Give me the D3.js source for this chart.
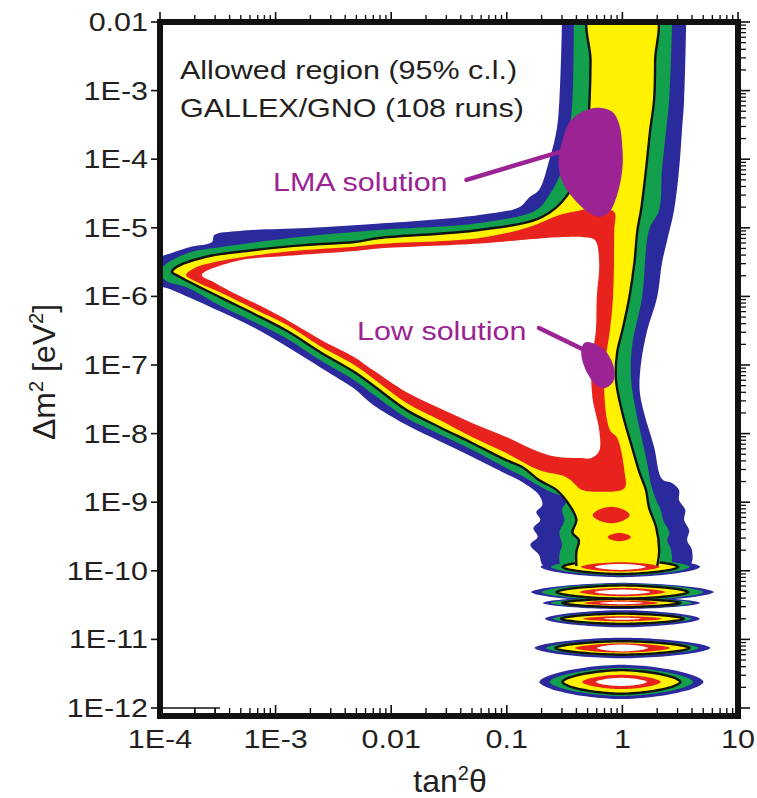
<!DOCTYPE html>
<html><head><meta charset="utf-8">
<script src="https://cdn.jsdelivr.net/npm/d3@7"></script>
<style>
html,body{margin:0;padding:0;background:#fff;}
svg text{font-family:"Liberation Sans",Arial,Helvetica,sans-serif;fill:#231f20;}
</style></head><body>
<svg id="chart" width="757" height="798"></svg>
<script>
// ---------------- data ----------------
const xTickValues = [1e-4, 1e-3, 1e-2, 1e-1, 1, 10];
const xTickLabels = ["1E-4", "1E-3", "0.01", "0.1", "1", "10"];
const yTickValues = [1e-2, 1e-3, 1e-4, 1e-5, 1e-6, 1e-7, 1e-8, 1e-9, 1e-10, 1e-11, 1e-12];
const yTickLabels = ["0.01", "1E-3", "1E-4", "1E-5", "1E-6", "1E-7", "1E-8", "1E-9", "1E-10", "1E-11", "1E-12"];

// outline points [tan^2 theta, delta m^2 (eV^2)] of each colour level
const blueRegion = [
 [0.21,1.17e-10],[0.19,1.7e-10],[0.16,2.4e-10],[0.185,3.1e-10],[0.17,4.2e-10],[0.195,5.5e-10],[0.18,7.2e-10],[0.203,9.1e-10],
 [0.19,1.27e-9],[0.136,1.97e-9],[0.099,2.58e-9],[0.050,4.6e-9],[0.026,7.8e-9],[0.0136,1.33e-8],[6.9e-3,2.65e-8],[4.8e-3,4.5e-8],
 [2.5e-3,9.0e-8],[1.27e-3,1.83e-7],[6.6e-4,3.46e-7],[3.4e-4,5.9e-7],[1.75e-4,9.8e-7],[1.04e-4,1.37e-6],[9e-5,1.3e-6],[9e-5,3.9e-6],
 [1.0e-4,3.85e-6],[1.82e-4,5.25e-6],[2.82e-4,6.2e-6],[2.95e-4,7.85e-6],[4.9e-4,9.0e-6],[1.86e-3,9.9e-6],[9.1e-3,1.17e-5],[0.058,1.54e-5],
 [0.128,2.0e-5],[0.157,2.8e-5],[0.19,3.56e-5],[0.233,9.7e-5],[0.27,2.67e-4],[0.285,7.3e-4],[0.30,1e-2],[0.30,1.3e-2],
 [3.56,1.3e-2],[3.56,1e-2],[3.42,7.3e-4],[3.28,2.67e-4],[3.09,7.0e-5],[2.8,1.82e-5],[2.44,6.6e-6],[2.2,3.07e-6],[2.0,9.8e-7],
 [1.64,3.2e-7],[1.45,1.07e-7],[1.41,4.3e-8],[1.54,2.0e-8],[1.88,6.4e-9],[2.2,2.18e-9],[2.69,1.9e-9],[3.09,1.5e-9],[3.09,1.08e-9],
 [3.5,7.7e-10],[3.42,5.5e-10],[3.78,3.9e-10],[3.63,2.8e-10],[4.0,2.0e-10],[3.78,1.17e-10]
];
const greenRegion = [
 [0.30,1.17e-10],[0.285,1.7e-10],[0.30,2.4e-10],[0.285,3.6e-10],[0.315,5.5e-10],[0.30,7.7e-10],[0.327,1.08e-9],[0.22,1.5e-9],
 [0.136,2.4e-9],[0.099,3.15e-9],[0.050,5.8e-9],[0.026,9.9e-9],[0.0136,1.69e-8],[6.9e-3,3.8e-8],[4.8e-3,6.0e-8],[2.5e-3,1.14e-7],
 [1.27e-3,2.4e-7],[6.6e-4,4.2e-7],[3.4e-4,7.2e-7],[1.75e-4,1.33e-6],[1.1e-4,1.73e-6],[1.02e-4,2.4e-6],[1.1e-4,2.87e-6],[1.75e-4,4.3e-6],
 [3.4e-4,5.25e-6],[9.3e-4,6.6e-6],[2.5e-3,7.9e-6],[7.9e-3,9.3e-6],[0.058,1.17e-5],[0.18,1.82e-5],[0.233,3.0e-5],[0.30,7.0e-5],
 [0.348,2.67e-4],[0.37,7.3e-4],[0.38,1e-2],[0.38,1.3e-2],[2.69,1.3e-2],[2.69,1e-2],[2.54,7.3e-4],[2.39,2.67e-4],[2.2,7.0e-5],
 [2.08,1.82e-5],[1.70,9.3e-6],[1.48,9.8e-7],[1.21,1.83e-7],[1.19,6.0e-8],[1.32,2.0e-8],[1.64,3.7e-9],[1.77,1.78e-9],[1.96,1.08e-9],
 [2.15,7.7e-10],[2.25,5.5e-10],[2.55,3.6e-10],[2.44,2.8e-10],[2.64,2.0e-10],[2.55,1.17e-10]
];
// 95% c.l. contour (black line) enclosing the yellow level
const contour95 = [
 [0.40,1.17e-10],[0.40,1.9e-10],[0.42,2.8e-10],[0.37,3.6e-10],[0.40,5.5e-10],[0.36,8.3e-10],[0.27,1.5e-9],[0.19,2.1e-9],
 [0.136,3.26e-9],[0.099,4.1e-9],[0.050,7.3e-9],[0.026,1.25e-8],[0.0136,2.2e-8],[6.9e-3,5.1e-8],[4.8e-3,7.9e-8],[2.5e-3,1.5e-7],
 [1.27e-3,3.1e-7],[6.6e-4,5.5e-7],[3.4e-4,9.5e-7],[1.49e-4,1.92e-6],[1.27e-4,2.27e-6],[1.35e-4,2.6e-6],[2.45e-4,3.75e-6],
 [6.6e-4,4.75e-6],[1.79e-3,5.6e-6],[4.8e-3,6.2e-6],[7.9e-3,7.1e-6],[0.058,9.3e-6],[0.20,1.43e-5],[0.334,3.0e-5],[0.47,1.36e-4],
 [0.50,2.67e-4],[0.52,7.3e-4],[0.53,2.8e-3],[0.52,1.3e-2],[1.92,1.3e-2],[1.92,2.8e-3],[1.88,7.3e-4],[1.74,2.67e-4],[1.6,7.0e-5],
 [1.45,1.82e-5],[1.35,9.3e-6],[1.27,3.07e-6],[1.15,9.8e-7],[1.0,3.2e-7],[0.90,1.5e-7],[0.88,6.0e-8],[1.0,2.0e-8],[1.21,6.4e-9],
 [1.41,2.67e-9],[1.6,1.5e-9],[1.70,8.3e-10],[1.96,4.3e-10],[2.08,2.0e-10],[2.0,1.17e-10]
];
const redRegion = [
 [0.285,1.54e-5],[0.157,1.03e-5],[0.058,7.1e-6],[7.9e-3,5.8e-6],[4.8e-3,5.3e-6],[1.27e-3,4.5e-6],[3.4e-4,3.3e-6],[2.0e-4,2.6e-6],
 [1.68e-4,2.05e-6],[2.0e-4,1.67e-6],[3.4e-4,1.12e-6],[6.6e-4,6.5e-7],[1.27e-3,3.8e-7],[2.5e-3,1.83e-7],[4.8e-3,1.0e-7],
 [0.0136,2.8e-8],[0.026,1.59e-8],[0.050,8.9e-9],[0.099,5.2e-9],[0.19,2.94e-9],[0.33,2.3e-9],[0.45,1.5e-9],[0.60,1.42e-9],
 [1.04,1.6e-9],[1.04,2.9e-9],[0.90,8.7e-9],[0.78,1.13e-8],[0.70,3.4e-8],[0.71,1.07e-7],[0.78,3.2e-7],[0.83,9.8e-7],
 [0.85,9.3e-6],[0.85,1.7e-5],[0.57,1.95e-5],[0.40,1.75e-5]
];
const holeRegion = [
 [2.3e-4,2.05e-6],[4.7e-4,3.3e-6],[1.27e-3,3.9e-6],[4.8e-3,4.6e-6],[7.9e-3,5.0e-6],[0.058,5.9e-6],[0.157,6.8e-6],[0.285,7.3e-6],
 [0.47,7.3e-6],[0.58,6.6e-6],[0.63,3.07e-6],[0.60,9.8e-7],[0.59,3.2e-7],[0.54,1.07e-7],[0.55,3.4e-8],[0.63,1.13e-8],[0.63,5.6e-9],
 [0.54,4.4e-9],[0.42,4.4e-9],[0.27,4.6e-9],[0.19,5.4e-9],[0.099,8.9e-9],[0.050,1.43e-8],[0.026,2.36e-8],[0.0136,4.0e-8],
 [6.9e-3,8.5e-8],[4.8e-3,1.3e-7],[2.5e-3,2.3e-7],[1.27e-3,4.5e-7],[6.6e-4,8.0e-7],[4.7e-4,1.05e-6],[3.0e-4,1.57e-6]
];

// vacuum-oscillation islands: centre and half sizes (decades) of bands blue, green, 95% c.l., red, white
const ovalTan2 = [0.96, 1.0, 0.98, 1.0, 1.0, 0.98];
const ovalDm2 = [1.14e-10, 4.9e-11, 3.4e-11, 2.0e-11, 7.5e-12, 2.4e-12];
const ovalHalfWidth = [
 [0.69, 0.60, 0.50, 0.34, 0.22],
 [0.79, 0.70, 0.57, 0.37, 0.24],
 [0.68, 0.61, 0.51, 0.32, 0.19],
 [0.67, 0.60, 0.53, 0.34, 0.16],
 [0.76, 0.66, 0.58, 0.41, 0.22],
 [0.71, 0.62, 0.51, 0.34, 0.22]
];
const ovalHalfHeight = [
 [0.15, 0.126, 0.104, 0.068, 0.044],
 [0.135, 0.12, 0.097, 0.06, 0.036],
 [0.09, 0.075, 0.06, 0.038, 0.018],
 [0.125, 0.09, 0.075, 0.038, 0.015],
 [0.15, 0.115, 0.098, 0.068, 0.05],
 [0.25, 0.205, 0.172, 0.105, 0.06]
];
// red patches inside the tail
const patchTan2 = [0.80, 0.94];
const patchDm2 = [6.5e-10, 3.1e-10];
const patchHalfWidth = [0.16, 0.10];
const patchHalfHeight = [0.12, 0.06];

// solutions
const lmaRegion = [[0.605,5.6e-4],[0.817,4.9e-4],[0.94,3.2e-4],[1.0,1.46e-4],[1.0,7.4e-5],[0.90,3.0e-5],[0.77,1.7e-5],
 [0.63,1.44e-5],[0.52,1.64e-5],[0.40,2.4e-5],[0.302,4.7e-5],[0.28,9.1e-5],[0.30,1.78e-4],[0.35,3.5e-4],[0.45,4.9e-4]];
const lowRegion = [[0.468,2.1e-7],[0.55,2.1e-7],[0.70,1.66e-7],[0.80,1.18e-7],[0.85,8.5e-8],[0.83,5.65e-8],[0.70,4.6e-8],
 [0.59,5.1e-8],[0.52,6.7e-8],[0.47,9.35e-8],[0.44,1.5e-7]];
const lmaPointer = [[0.0448,5.0e-5],[0.285,1.27e-4]];
const lowPointer = [[0.19,3.46e-7],[0.45,1.71e-7]];

// ---------------- drawing ----------------
const C = {blue:"#2a2a9c", green:"#12a04c", yellow:"#fff200", red:"#e8231e", white:"#ffffff", purple:"#9b2394"};
const svg = d3.select("#chart");
const x = d3.scaleLog().domain([1e-4, 10]).range([160, 738]);
const y = d3.scaleLog().domain([1e-12, 1e-2]).range([708, 22]);
const frameBottom = 716;

svg.append("defs").append("clipPath").attr("id","plotclip").append("rect")
  .attr("x", x.range()[0]).attr("y", y.range()[1]).attr("width", x.range()[1]-x.range()[0]).attr("height", frameBottom - y.range()[1]);

const plot = svg.append("g").attr("clip-path","url(#plotclip)");
const closed = d3.line().x(d=>x(d[0])).y(d=>y(d[1])).curve(d3.curveCatmullRomClosed.alpha(0.5));
const open = d3.line().x(d=>x(d[0])).y(d=>y(d[1])).curve(d3.curveCatmullRom.alpha(0.5));
const straight = d3.line().x(d=>x(d[0])).y(d=>y(d[1]));
const linear = d3.line().x(d=>x(d[0])).y(d=>y(d[1])).curve(d3.curveLinearClosed);

// lens-like oval outline (superellipse) in log-log space
function ovalPoints(cx, cy, hw, hh){
  const p = 1.2;
  return d3.range(96).map(i=>{
    const t = i/96*2*Math.PI, c = Math.cos(t), s = Math.sin(t);
    const u = Math.sign(c)*Math.pow(Math.abs(c), p), v = Math.sign(s)*Math.pow(Math.abs(s), p);
    return [cx*Math.pow(10, hw*u), cy*Math.pow(10, hh*v)];
  });
}
function drawOvals(level, fill, stroke){
  ovalDm2.forEach((cy,i)=>{
    plot.append("path").attr("d", linear(ovalPoints(ovalTan2[i], cy, ovalHalfWidth[i][level], ovalHalfHeight[i][level])))
      .attr("fill", fill).attr("stroke", stroke || "none").attr("stroke-width", stroke ? 2.4 : 0);
  });
}

// blue level
plot.append("path").attr("d", closed(blueRegion)).attr("fill", C.blue);
drawOvals(0, C.blue);
// green level
plot.append("path").attr("d", closed(greenRegion)).attr("fill", C.green);
drawOvals(1, C.green);
// yellow level bounded by 95% c.l. black contour
drawOvals(2, C.yellow, "#111");
plot.append("path").attr("d", closed(contour95)).attr("fill", C.yellow);
plot.append("path").attr("d", open(contour95)).attr("fill","none").attr("stroke","#111").attr("stroke-width",2.4);
// red level
plot.append("path").attr("d", closed(redRegion)).attr("fill", C.red);
drawOvals(3, C.red);
patchDm2.forEach((cy,i)=>{
  plot.append("path").attr("d", linear(ovalPoints(patchTan2[i], cy, patchHalfWidth[i], patchHalfHeight[i]))).attr("fill", C.red);
});
// innermost (white)
plot.append("path").attr("d", closed(holeRegion)).attr("fill", C.white);
drawOvals(4, C.white);

// solutions
plot.append("path").attr("d", closed(lmaRegion)).attr("fill", C.purple);
plot.append("path").attr("d", closed(lowRegion)).attr("fill", C.purple);
plot.append("path").attr("d", straight(lmaPointer)).attr("stroke", C.purple).attr("stroke-width",4.5).attr("stroke-linecap","round").attr("fill","none");
plot.append("path").attr("d", straight(lowPointer)).attr("stroke", C.purple).attr("stroke-width",4.5).attr("stroke-linecap","round").attr("fill","none");

// ---------------- axes ----------------
const axes = svg.append("g").attr("stroke","#111").attr("fill","none");
const x0 = x.range()[0], x1 = x.range()[1], yTop = y.range()[1];
const xMinor = [], yMinor = [];
xTickValues.slice(0,-1).forEach(d=>{ for(let k=2;k<=9;k++) xMinor.push(d*k); });
yTickValues.slice(1).forEach(d=>{ for(let k=2;k<=9;k++) yMinor.push(d*k); });

xTickValues.forEach(v=>{
  axes.append("line").attr("x1",x(v)).attr("x2",x(v)).attr("y1",yTop).attr("y2",yTop-10).attr("stroke-width",1.6);
  axes.append("line").attr("x1",x(v)).attr("x2",x(v)).attr("y1",frameBottom).attr("y2",frameBottom-11).attr("stroke-width",1.6);
});
xMinor.forEach(v=>{
  axes.append("line").attr("x1",x(v)).attr("x2",x(v)).attr("y1",yTop).attr("y2",yTop-7).attr("stroke-width",1.4);
  axes.append("line").attr("x1",x(v)).attr("x2",x(v)).attr("y1",frameBottom).attr("y2",frameBottom-8).attr("stroke-width",1.4);
});
yTickValues.forEach(v=>{
  axes.append("line").attr("x1",x0-9).attr("x2",x0).attr("y1",y(v)).attr("y2",y(v)).attr("stroke-width",1.6);
  axes.append("line").attr("x1",x1).attr("x2",x1+12).attr("y1",y(v)).attr("y2",y(v)).attr("stroke-width",1.6);
});
yMinor.forEach(v=>{
  axes.append("line").attr("x1",x1).attr("x2",x1+8).attr("y1",y(v)).attr("y2",y(v)).attr("stroke-width",1.3);
});
axes.append("line").attr("x1",x0).attr("x2",x(3.3e-4)).attr("y1",y(1e-12)).attr("y2",y(1e-12)).attr("stroke-width",1.5);
[2e-4,3e-4].forEach(v=>axes.append("line").attr("x1",x(v)).attr("x2",x(v)).attr("y1",y(1e-12)).attr("y2",y(1e-12)+6).attr("stroke-width",1.4));

axes.append("rect").attr("x",x0).attr("y",yTop).attr("width",x1-x0).attr("height",frameBottom-yTop).attr("stroke-width",6);

// tick labels
const SX = 1.22;
yTickValues.forEach((v,i)=>{
  svg.append("text").attr("transform",`translate(148,${y(v)}) scale(${SX},1)`)
    .attr("text-anchor","end").attr("dy","0.36em").attr("font-size",25).text(yTickLabels[i]);
});
xTickValues.forEach((v,i)=>{
  svg.append("text").attr("transform",`translate(${x(v)},748) scale(${SX},1)`)
    .attr("text-anchor","middle").attr("font-size",25).text(xTickLabels[i]);
});

// axis titles
const yt = svg.append("text").attr("transform","translate(55,372) rotate(-90)").attr("text-anchor","middle").attr("font-size",32);
yt.append("tspan").text("\u0394m");
yt.append("tspan").attr("dy",-12).attr("font-size",20).text("2");
yt.append("tspan").attr("dy",12).text(" [eV");
yt.append("tspan").attr("dy",-12).attr("font-size",20).text("2");
yt.append("tspan").attr("dy",12).text("]");

const xt = svg.append("text").attr("transform","translate(450,792)").attr("text-anchor","middle").attr("font-size",32);
xt.append("tspan").text("tan");
xt.append("tspan").attr("dy",-12).attr("font-size",20).text("2");
xt.append("tspan").attr("dy",12).text("\u03b8");

// annotation texts
svg.append("text").attr("transform",`translate(180,79) scale(${SX},1)`).attr("font-size",25).text("Allowed region (95% c.l.)");
svg.append("text").attr("transform",`translate(180,117) scale(${SX},1)`).attr("font-size",25).text("GALLEX/GNO (108 runs)");
svg.append("text").attr("transform",`translate(273,191) scale(${SX},1)`).attr("font-size",25).style("fill",C.purple).text("LMA solution");
svg.append("text").attr("transform",`translate(357,340) scale(${SX},1)`).attr("font-size",25).style("fill",C.purple).text("Low solution");
</script>
</body></html>
